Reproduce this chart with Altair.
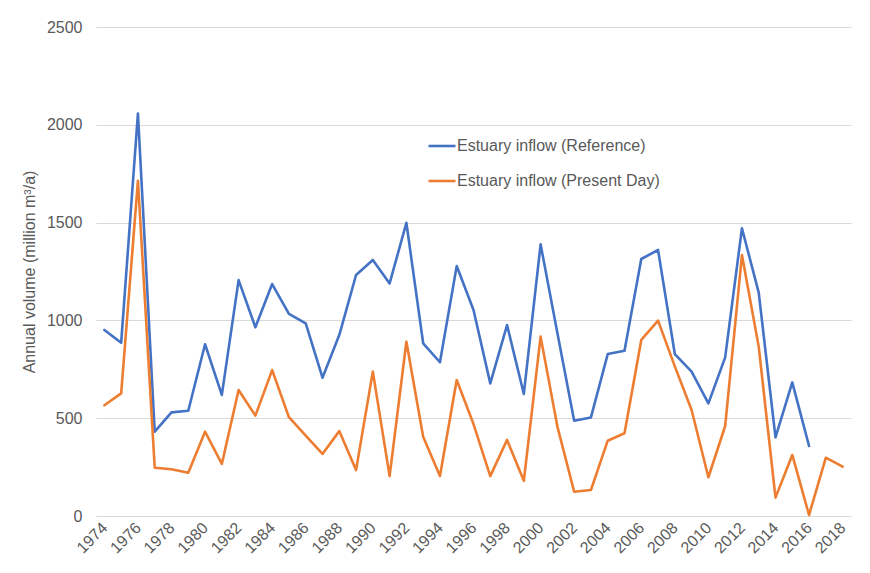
import altair as alt
import pandas as pd

years = list(range(1974, 2019))

reference = [951, 886, 2058, 431, 530, 538, 878, 619, 1206, 965,
             1186, 1033, 985, 707, 925, 1232, 1309, 1189, 1499, 883,
             786, 1278, 1053, 678, 976, 624, 1389, 935, 487, 504,
             828, 845, 1314, 1360, 828, 738, 576, 811, 1471, 1142,
             402, 683, 358, None, None]

present_day = [566, 627, 1714, 247, 239, 221, 431, 266, 644, 513,
               746, 505, 411, 317, 434, 235, 738, 204, 891, 405,
               204, 695, 470, 204, 389, 180, 917, 457, 124, 133,
               385, 423, 900, 999, 765, 542, 198, 460, 1334, 866,
               94, 312, 5, 298, 252]

series_names = ["Estuary inflow (Reference)", "Estuary inflow (Present Day)"]
series_colors = ["#4472C4", "#ED7D31"]
y_ticks = [0, 500, 1000, 1500, 2000, 2500]
x_label_years = [str(y) for y in years if y % 2 == 0]

rows = []
for yr, r, p in zip(years, reference, present_day):
    if r is not None:
        rows.append({"Year": str(yr), "Series": series_names[0], "Value": r})
    rows.append({"Year": str(yr), "Series": series_names[1], "Value": p})
df = pd.DataFrame(rows)

FONT = "Liberation Sans"
GRAY = "#595959"
FS = 16

chart = alt.Chart(df).mark_line(strokeWidth=2.6, strokeCap="round", strokeJoin="round").encode(
    x=alt.X("Year:O",
            scale=alt.Scale(type="point", padding=0.5, domain=[str(y) for y in years]),
            axis=alt.Axis(title=None, values=x_label_years, labelAngle=-45,
                          labelAlign="right", labelBaseline="middle",
                          labelPadding=9, ticks=False, domain=False, grid=False,
                          labelFont=FONT, labelFontSize=FS, labelColor=GRAY)),
    y=alt.Y("Value:Q",
            scale=alt.Scale(domain=[0, 2500], nice=False),
            axis=alt.Axis(title="Annual volume (million m³/a)", values=y_ticks,
                          format="d",
                          ticks=False, domain=False, grid=True, gridColor="#D9D9D9",
                          gridWidth=1, labelPadding=14, labelFont=FONT,
                          labelFontSize=FS, labelColor=GRAY, titleFont=FONT,
                          titleFontSize=FS, titleColor=GRAY, titleFontWeight="normal",
                          titlePadding=9)),
    color=alt.Color("Series:N",
                    scale=alt.Scale(domain=series_names, range=series_colors),
                    sort=series_names,
                    legend=alt.Legend(title=None, orient="none", legendX=331, legendY=104,
                                      symbolType="stroke", symbolSize=729,
                                      symbolStrokeWidth=2.6, labelFont=FONT,
                                      labelFontSize=FS, labelColor=GRAY, labelLimit=0,
                                      labelOffset=0, rowPadding=12)),
    order=alt.Order("Year:O"),
).properties(
    width=755, height=489,
    autosize=alt.AutoSizeParams(type="none"),
    padding={"left": 88, "top": 19, "right": 10, "bottom": 50},
    background="white",
).configure_view(stroke=None)

chart.save("out.html", embed_options={"renderer": "svg", "actions": False})
